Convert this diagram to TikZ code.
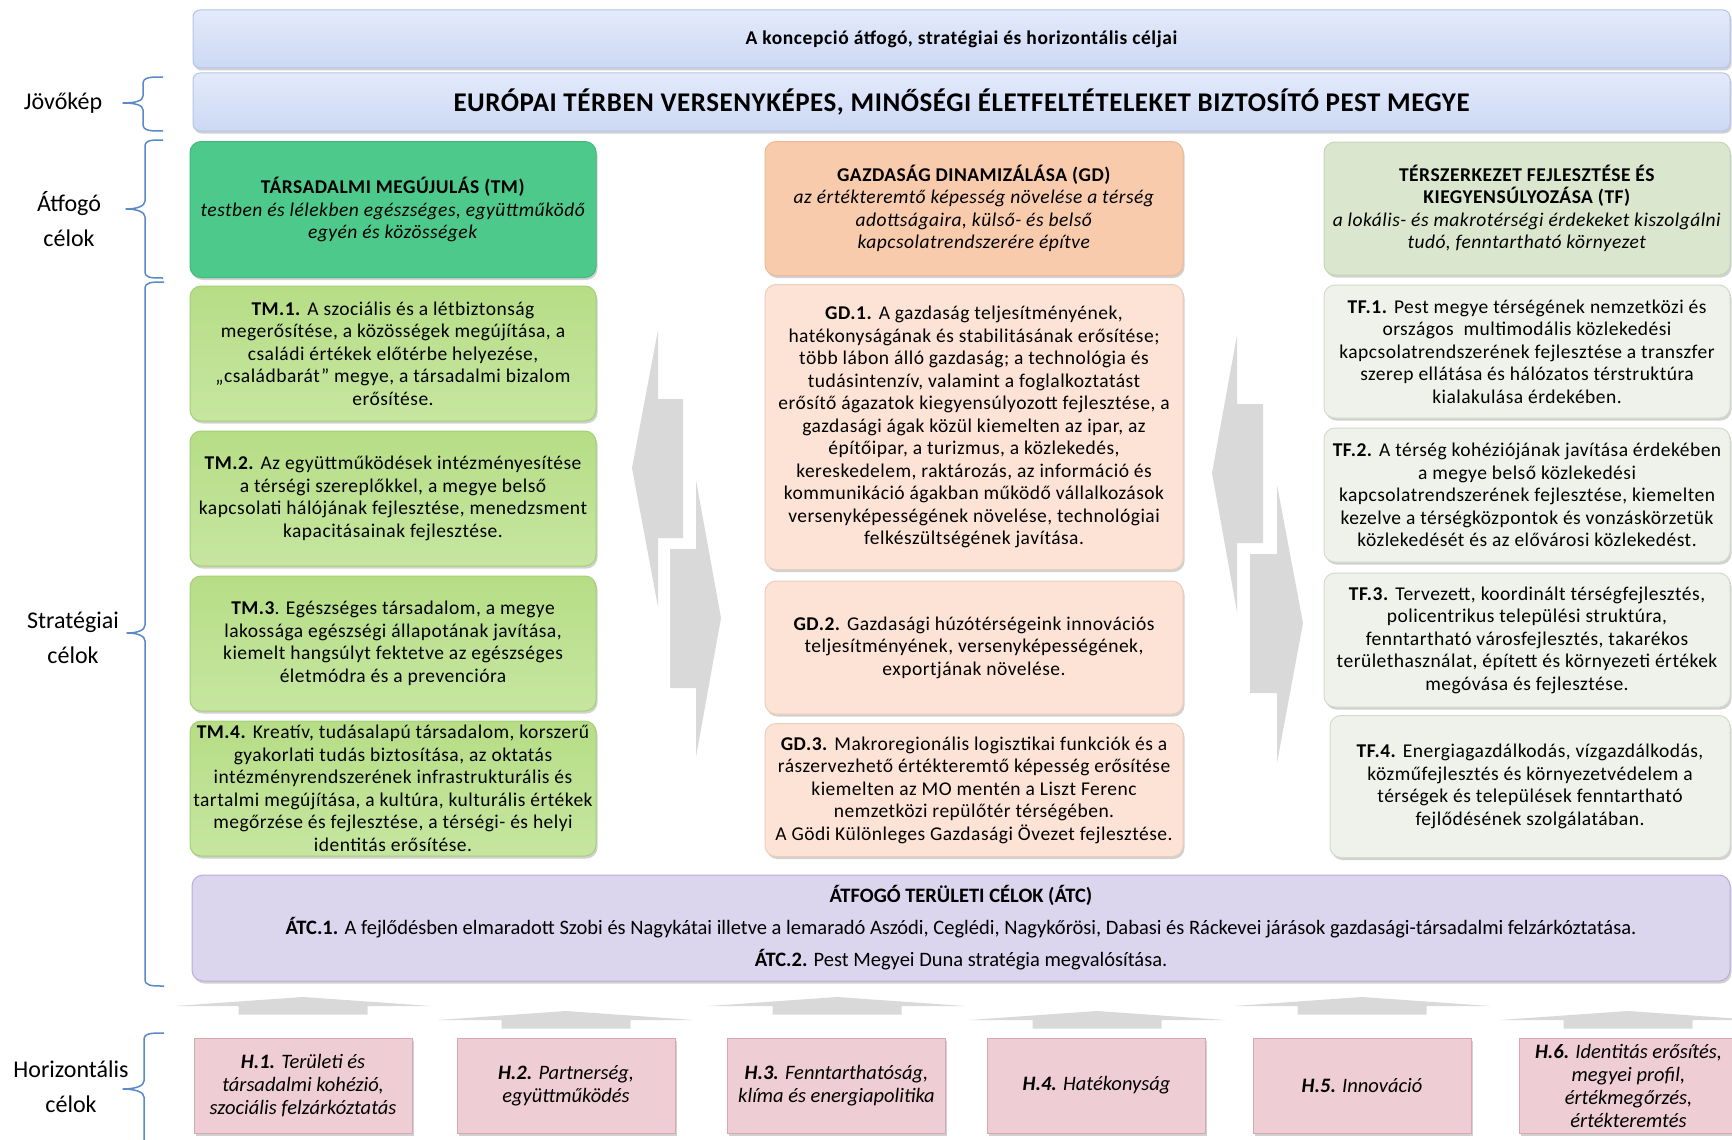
\documentclass[tikz,border=0pt]{standalone}
\usepackage{fontspec}
\setmainfont{Carlito}
\newfontfamily\spacedfont[LetterSpace=2.5]{Carlito}
\newfontfamily\topfont[LetterSpace=3]{Carlito}
\newfontfamily\visfont[LetterSpace=2]{Carlito}
\usetikzlibrary{shadows}
\definecolor{barfillA}{HTML}{E3EAFB}
\definecolor{barfillB}{HTML}{CCD8F4}
\definecolor{barline}{HTML}{B5C5E8}
\definecolor{tmhead}{HTML}{4DC98B}
\definecolor{tmheadline}{HTML}{3FB97C}
\definecolor{tmbox}{HTML}{B6DD86}
\definecolor{tmboxB}{HTML}{C6E6A0}
\definecolor{tmline}{HTML}{A5CF74}
\definecolor{gdhead}{HTML}{F8CBAD}
\definecolor{gdheadline}{HTML}{EDB893}
\definecolor{gdbox}{HTML}{FCE3D5}
\definecolor{gdline}{HTML}{EDCDBB}
\definecolor{tfhead}{HTML}{DAE7CE}
\definecolor{tfheadline}{HTML}{C5D6B6}
\definecolor{tfbox}{HTML}{EEF2EA}
\definecolor{tfline}{HTML}{D3DCCB}
\definecolor{atcfill}{HTML}{DCD5EE}
\definecolor{atcline}{HTML}{B9AEDB}
\definecolor{hfill}{HTML}{EFCDD5}
\definecolor{hline}{HTML}{D7A7B3}
\definecolor{arrowgrey}{HTML}{D9D9D9}
\definecolor{bracecol}{HTML}{5A89C8}
\newcommand\boxfont{\spacedfont\fontsize{19.5}{22.5}\selectfont}
\newcommand\labfont{\fontsize{24}{35}\selectfont}
\newcommand\hfont{\fontsize{20.5}{23}\selectfont\itshape}
\tikzset{
  shadowed/.style={drop shadow={shadow xshift=1.5pt, shadow yshift=-2.5pt, opacity=0.18, fill=black}},
  bar/.style={rounded corners=7pt, draw=barline, line width=1pt, top color=barfillA, bottom color=barfillB, shadowed, minimum width=1537pt, minimum height=58pt, inner sep=0pt},
  cbox/.style={rounded corners=11pt, line width=1pt, shadowed, inner sep=0pt, align=center, font=\boxfont},
  tmh/.style={cbox, fill=tmhead, draw=tmheadline, minimum width=406pt},
  tmb/.style={cbox, top color=tmbox, bottom color=tmboxB, draw=tmline, minimum width=406pt, minimum height=135pt},
  gdh/.style={cbox, fill=gdhead, draw=gdheadline, minimum width=418pt},
  gdb/.style={cbox, fill=gdbox, draw=gdline, minimum width=418pt},
  tfh/.style={cbox, fill=tfhead, draw=tfheadline, minimum width=406pt},
  tfb/.style={cbox, fill=tfbox, draw=tfline, minimum width=406pt},
  hbox/.style={draw=hline, line width=1pt, fill=hfill, shadowed, minimum width=218pt, minimum height=95pt, inner sep=0pt, align=center, font=\hfont},
  lab/.style={align=center, font=\labfont, inner sep=0pt},
  brace/.style={draw=bracecol, line width=1.5pt, line join=round},
  garrow/.style={fill=arrowgrey, draw=none},
}
\begin{document}
\begin{tikzpicture}[x=1pt,y=-1pt]
\useasboundingbox (0,0) rectangle (1732,1140);
\clip (0,0) rectangle (1732,1140);
\fill[white] (0,0) rectangle (1732,1140);

% top bars
\node[bar, font=\topfont\bfseries\fontsize{19.5}{22}\selectfont] (top) at (961.5,39) {A koncepció átfogó, stratégiai és horizontális céljai};
\node[bar, font=\visfont\bfseries\fontsize{27}{30}\selectfont] (vision) at (961.5,102) {EURÓPAI TÉRBEN VERSENYKÉPES, MINŐSÉGI ÉLETFELTÉTELEKET BIZTOSÍTÓ PEST MEGYE};

% labels
\node[lab] (ljov) at (63,103) {Jövőkép};
\node[lab] (latf) at (69,219) {Átfogó\\célok};
\node[lab] (lstr) at (73,638) {Stratégiai\\célok};
\node[lab] (lhor) at (71,1087) {Horizontális\\célok};

% braces
\draw[brace] (163,77) .. controls (150,77) and (143,77) .. (143,84) -- (143,96) .. controls (143,101) and (135,103) .. (123,103) .. controls (135,103) and (143,105) .. (143,110) -- (143,124) .. controls (143,131) and (150,131) .. (163,131);
\draw[brace] (163,140) .. controls (150,140) and (145,140) .. (145,147) -- (145,201) .. controls (145,206) and (137,209) .. (126,209) .. controls (137,209) and (145,212) .. (145,217) -- (145,271) .. controls (145,278) and (150,278) .. (163,278);
\draw[brace] (164,282) .. controls (151,282) and (145,282) .. (145,289) -- (145,625) .. controls (145,630) and (138,633) .. (127,633) .. controls (138,633) and (145,636) .. (145,641) -- (145,979) .. controls (145,986) and (151,986) .. (164,986);
\draw[brace] (164,1033) .. controls (151,1033) and (144,1033) .. (144,1040) -- (144,1081) .. controls (144,1086) and (135,1089) .. (123,1089) .. controls (135,1089) and (144,1092) .. (144,1097) -- (144,1150);

% grey arrows between columns
\fill[garrow] (658,330) -- (632,468) -- (658,607) -- (658,538) -- (683,538) -- (683,399) -- (658,399) -- cycle;
\fill[garrow] (696,480) -- (721,618) -- (696,757) -- (696,688) -- (670,688) -- (670,549) -- (696,549) -- cycle;
\fill[garrow] (1237,335) -- (1212,473) -- (1237,612) -- (1237,543) -- (1263,543) -- (1263,404) -- (1237,404) -- cycle;
\fill[garrow] (1277,485) -- (1303,623) -- (1277,763) -- (1277,693) -- (1250,693) -- (1250,554) -- (1277,554) -- cycle;

% TM column
\node[tmh, minimum height=136pt] (tmh) at (393,209.5) {\textbf{TÁRSADALMI MEGÚJULÁS (TM)}\\ \textit{testben és lélekben egészséges, együttműködő}\\ \textit{egyén és közösségek}};
\node[tmb] (tm1) at (393,353.5) {\textbf{TM.1.} A szociális és a létbiztonság\\ megerősítése, a közösségek megújítása, a\\ családi értékek előtérbe helyezése,\\ „családbarát” megye, a társadalmi bizalom\\ erősítése.};
\node[tmb] (tm2) at (393,498.5) {\textbf{TM.2.} Az együttműködések intézményesítése\\ a térségi szereplőkkel, a megye belső\\ kapcsolati hálójának fejlesztése, menedzsment\\ kapacitásainak fejlesztése.};
\node[tmb] (tm3) at (393,643.5) {\textbf{TM.3}. Egészséges társadalom, a megye\\ lakossága egészségi állapotának javítása,\\ kiemelt hangsúlyt fektetve az egészséges\\ életmódra és a prevencióra};
\node[tmb] (tm4) at (393,788.5) {\textbf{TM.4.} Kreatív, tudásalapú társadalom, korszerű\\ gyakorlati tudás biztosítása, az oktatás\\ intézményrendszerének infrastrukturális és\\ tartalmi megújítása, a kultúra, kulturális értékek\\ megőrzése és fejlesztése, a térségi- és helyi\\ identitás erősítése.};

% GD column
\node[gdh, minimum height=134pt] (gdh) at (974,208.5) {\textbf{GAZDASÁG DINAMIZÁLÁSA (GD)}\\ \textit{az értékteremtő képesség növelése a térség}\\ \textit{adottságaira, külső- és belső}\\ \textit{kapcsolatrendszerére építve}};
\node[gdb, minimum height=285pt] (gd1) at (974,427) {\textbf{GD.1.} A gazdaság teljesítményének,\\ hatékonyságának és stabilitásának erősítése;\\ több lábon álló gazdaság; a technológia és\\ tudásintenzív, valamint a foglalkoztatást\\ erősítő ágazatok kiegyensúlyozott fejlesztése, a\\ gazdasági ágak közül kiemelten az ipar, az\\ építőipar, a turizmus, a közlekedés,\\ kereskedelem, raktározás, az információ és\\ kommunikáció ágakban működő vállalkozások\\ versenyképességének növelése, technológiai\\ felkészültségének javítása.};
\node[gdb, minimum height=133pt] (gd2) at (974,647.5) {\textbf{GD.2.} Gazdasági húzótérségeink innovációs\\ teljesítményének, versenyképességének,\\ exportjának növelése.};
\node[gdb, minimum height=133pt] (gd3) at (974,790) {\textbf{GD.3.} Makroregionális logisztikai funkciók és a\\ rászervezhető értékteremtő képesség erősítése\\ kiemelten az MO mentén a Liszt Ferenc\\ nemzetközi repülőtér térségében.\\ A Gödi Különleges Gazdasági Övezet fejlesztése.};

% TF column
\node[tfh, minimum height=133pt] (tfh) at (1527,208.5) {\textbf{TÉRSZERKEZET FEJLESZTÉSE ÉS}\\ \textbf{KIEGYENSÚLYOZÁSA (TF)}\\ \textit{a lokális- és makrotérségi érdekeket kiszolgálni}\\ \textit{tudó, fenntartható környezet}};
\node[tfb, minimum height=133pt] (tf1) at (1527,351.5) {\textbf{TF.1.} Pest megye térségének nemzetközi és\\ országos\ \ multimodális közlekedési\\ kapcsolatrendszerének fejlesztése a transzfer\\ szerep ellátása és hálózatos térstruktúra\\ kialakulása érdekében.};
\node[tfb, minimum height=134pt] (tf2) at (1527,495) {\textbf{TF.2.} A térség kohéziójának javítása érdekében\\ a megye belső közlekedési\\ kapcsolatrendszerének fejlesztése, kiemelten\\ kezelve a térségközpontok és vonzáskörzetük\\ közlekedését és az elővárosi közlekedést.};
\node[tfb, minimum height=134pt] (tf3) at (1527,640) {\textbf{TF.3.} Tervezett, koordinált térségfejlesztés,\\ policentrikus települési struktúra,\\ fenntartható városfejlesztés, takarékos\\ területhasználat, épített és környezeti értékek\\ megóvása és fejlesztése.};
\node[tfb, minimum height=142pt, minimum width=400pt] (tf4) at (1530,786.5) {\textbf{TF.4.} Energiagazdálkodás, vízgazdálkodás,\\ közműfejlesztés és környezetvédelem a\\ térségek és települések fenntartható\\ fejlődésének szolgálatában.};

% ATC
\node[cbox, fill=atcfill, draw=atcline, minimum width=1538pt, minimum height=106pt, font=\fontsize{20.5}{22}\selectfont] (atc) at (961,928) {\textbf{ÁTFOGÓ TERÜLETI CÉLOK (ÁTC)}\\[10pt] \textbf{ÁTC.1.} A fejlődésben elmaradott Szobi és Nagykátai illetve a lemaradó Aszódi, Ceglédi, Nagykőrösi, Dabasi és Ráckevei járások gazdasági-társadalmi felzárkóztatása.\\[10pt] \textbf{ÁTC.2.} Pest Megyei Duna stratégia megvalósítása.};

% bottom arrows (up)
\foreach \cx/\ya in {303/997, 837/997, 1362/997, 566/1011, 1097/1011, 1628/1011}{
  \fill[garrow] (\cx-128,\ya+9) -- (\cx,\ya) -- (\cx+128,\ya+9) -- (\cx+64.5,\ya+9) -- (\cx+64.5,\ya+17.5) -- (\cx-64.5,\ya+17.5) -- (\cx-64.5,\ya+9) -- cycle;
}

% H boxes
\node[hbox] (h1) at (303,1085.5) {\textbf{H.1.} Területi és\\ társadalmi kohézió,\\ szociális felzárkóztatás};
\node[hbox] (h2) at (566,1085.5) {\textbf{H.2.} Partnerség,\\ együttműködés};
\node[hbox] (h3) at (836.5,1085.5) {\textbf{H.3.} Fenntarthatóság,\\ klíma és energiapolitika};
\node[hbox] (h4) at (1096.5,1085.5) {\textbf{H.4.} Hatékonyság};
\node[hbox] (h5) at (1362,1085.5) {\textbf{H.5.} Innováció};
\node[hbox] (h6) at (1628.5,1085.5) {\textbf{H.6.} Identitás erősítés,\\ megyei profil,\\ értékmegőrzés,\\ értékteremtés};
\end{tikzpicture}
\end{document}
